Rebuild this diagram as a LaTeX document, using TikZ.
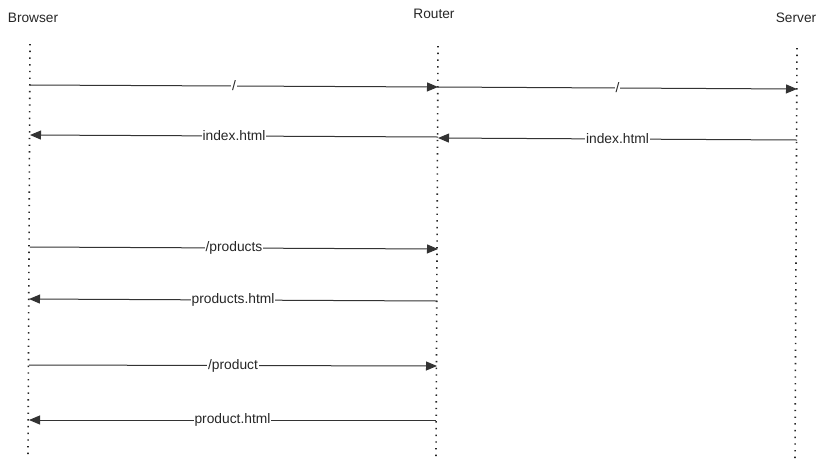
\documentclass[tikz,border=0pt]{standalone}
\usepackage{fontspec}
\setmainfont{Liberation Sans}
\usetikzlibrary{arrows.meta}
\begin{document}
\begin{tikzpicture}[x=1pt,y=-1pt,
  lifeline/.style={draw=black!85,line width=1.6pt,dash pattern=on 1.4pt off 5.3pt},
  actor/.style={font=\fontsize{13.7}{15}\selectfont,text=black!85,inner sep=0pt},
  msg/.style={draw=black!80,line width=1pt,-{Triangle[length=11pt,width=9pt]}},
  msglabel/.style={font=\fontsize{13.8}{15}\selectfont,text=black!85,fill=white,inner sep=0.8pt}]
\useasboundingbox (0,0) rectangle (822,467);
% actors
\node[actor] (browser) at (33,18) {Browser};
\node[actor] (router) at (434,14) {Router};
\node[actor] (server) at (796,18) {Server};
% lifelines
\coordinate (bt) at (30,44); \coordinate (bb) at (28,456);
\coordinate (rt) at (438,46); \coordinate (rb) at (436,456);
\coordinate (st) at (797,48); \coordinate (sb) at (795,460);
\draw[lifeline] (bt) -- (bb);
\draw[lifeline] (rt) -- (rb);
\draw[lifeline] (st) -- (sb);
% message endpoints
\coordinate (b1) at (30,85);  \coordinate (r1) at (438,87);
\coordinate (r2) at (438,87); \coordinate (s2) at (797,89);
\coordinate (r3) at (438,137);\coordinate (b3) at (30,135);
\coordinate (s4) at (797,140);\coordinate (r4) at (438,138);
\coordinate (b5) at (30,247); \coordinate (r5) at (438,249);
\coordinate (r6) at (437,301);\coordinate (b6) at (29,299);
\coordinate (b7) at (29,365); \coordinate (r7) at (437,366);
\coordinate (r8) at (436,420);\coordinate (b8) at (29,420);
% messages
\draw[msg] (b1) -- node[msglabel] (m1) {/} (r1);
\draw[msg] (r2) -- node[msglabel] (m2) {/} (s2);
\draw[msg] (r3) -- node[msglabel] (m3) {index.html} (b3);
\draw[msg] (s4) -- node[msglabel] (m4) {index.html} (r4);
\draw[msg] (b5) -- node[msglabel] (m5) {/products} (r5);
\draw[msg] (r6) -- node[msglabel] (m6) {products.html} (b6);
\draw[msg] (b7) -- node[msglabel] (m7) {/product} (r7);
\draw[msg] (r8) -- node[msglabel] (m8) {product.html} (b8);
\end{tikzpicture}
\end{document}
